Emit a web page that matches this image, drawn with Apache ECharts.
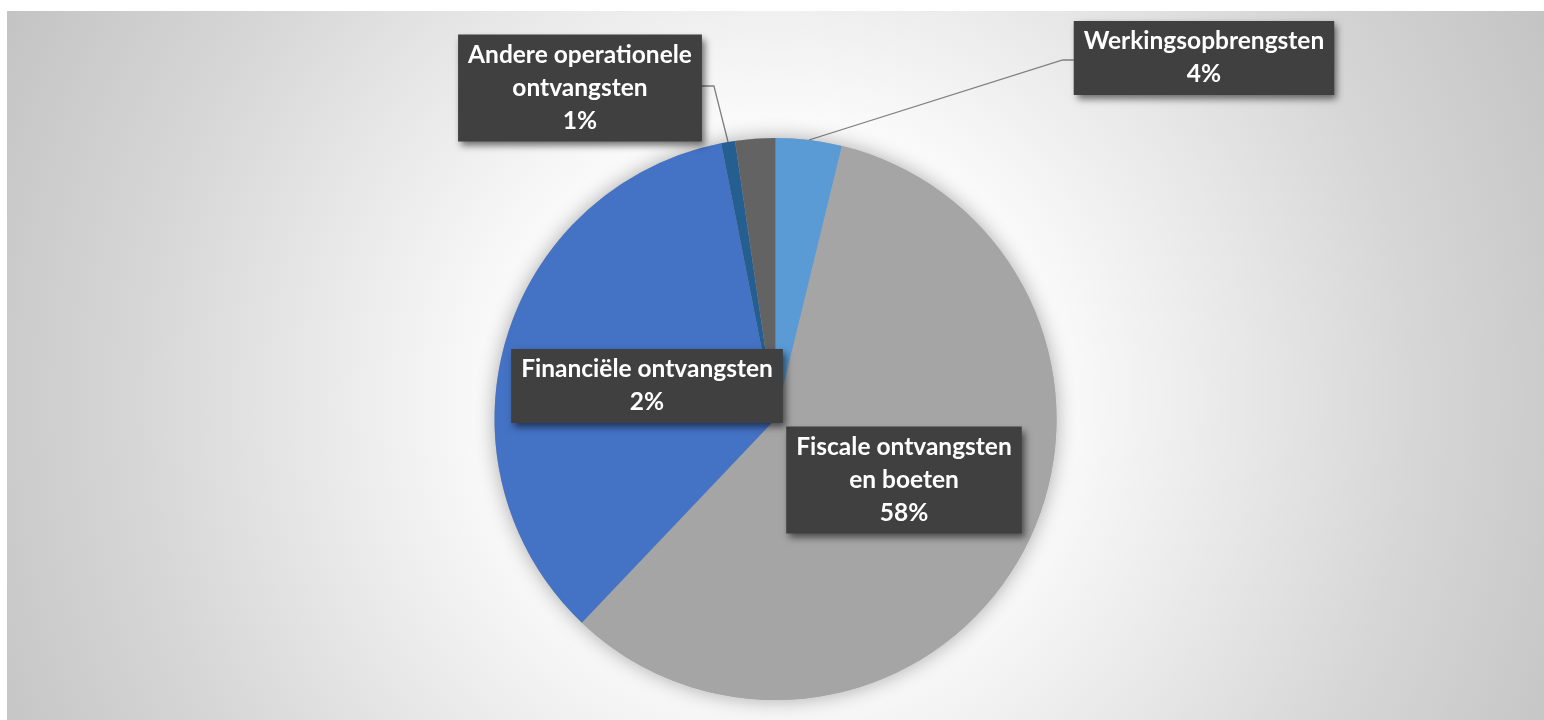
<!DOCTYPE html>
<html>
<head>
<meta charset="utf-8">
<script src="https://cdn.jsdelivr.net/npm/echarts@6/dist/echarts.min.js"></script>
<style>
  html, body { margin: 0; padding: 0; background: #fff; }
  #chart { position: absolute; left: 7px; top: 11px; width: 1537px; height: 709px; }
</style>
</head>
<body>
<div id="chart"></div>
<script>
// ── data (share of total in %) ──
const categories = [
  "Werkingsopbrengsten",
  "Fiscale ontvangsten en boeten",
  "Overdrachten",
  "Andere operationele ontvangsten",
  "Financiële ontvangsten",
];
const shares = [3.8, 58.3, 34.8, 0.8, 2.3];
const colors = ["#5B9BD5", "#A5A5A5", "#4472C4", "#255E91", "#636363"];

// which slices carry a label box, and how their text wraps
const labelText = {
  0: ["Werkingsopbrengsten"],
  1: ["Fiscale ontvangsten", "en boeten"],
  3: ["Andere operationele", "ontvangsten"],
  4: ["Financiële ontvangsten"],
};
// label box centres (chart px) + which side the leader enters from
const labelAt = {
  0: { x: 1197, y: 47, side: "left" },
  1: { x: 897, y: 469 },
  3: { x: 573, y: 77, side: "right" },
  4: { x: 640, y: 375 },
};

const total = shares.reduce((a, b) => a + b, 0);
const CENTER = ["50%", 408];
const RADIUS = 281;

const chart = echarts.init(document.getElementById("chart"), null, { renderer: "canvas" });

chart.setOption({
  backgroundColor: {
    type: "radial", x: 769, y: 389, r: 880, global: true,
    colorStops: [
      { offset: 0, color: "#ffffff" },
      { offset: 0.32, color: "#fafafa" },
      { offset: 0.54, color: "#e7e7e7" },
      { offset: 0.73, color: "#d6d6d6" },
      { offset: 1, color: "#c2c2c2" },
    ],
  },
  animation: false,
  series: [
    // soft glow under the whole pie
    {
      type: "pie", silent: true, center: CENTER, radius: RADIUS,
      label: { show: false }, labelLine: { show: false },
      itemStyle: { color: "#a5a5a5", shadowBlur: 20, shadowColor: "rgba(0,0,0,0.32)" },
      data: [{ name: "", value: total }],
    },
    {
      type: "pie", center: CENTER, radius: RADIUS,
      startAngle: 90, clockwise: true,
      itemStyle: { borderWidth: 0 },
      label: {
        show: true,
        formatter: (p) => (labelText[p.dataIndex] || [p.name]).join("\n") + "\n" + Math.round(p.percent) + "%",
        fontFamily: "Lato", fontWeight: "bold", fontSize: 24.5, lineHeight: 33,
        color: "#fff", align: "center",
        backgroundColor: "#404040", padding: [6, 10, 2, 10],
        shadowColor: "rgba(0,0,0,0.55)", shadowBlur: 7, shadowOffsetX: 3, shadowOffsetY: 4,
      },
      labelLine: { show: true, smooth: false, lineStyle: { color: "#7f7f7f", width: 1.3 } },
      labelLayout: (p) => {
        const at = labelAt[p.dataIndex];
        if (!at) return {};
        const out = { x: at.x, y: at.y, align: "center", verticalAlign: "middle" };
        const start = p.labelLinePoints && p.labelLinePoints[0];
        if (at.side && start) {
          const half = p.labelRect.width / 2;
          const edge = at.side === "left" ? at.x - half : at.x + half;
          const elbow = at.side === "left" ? edge - 11 : edge + 12;
          const ly = at.side === "left" ? at.y + 2 : at.y - 2;
          out.labelLinePoints = [start, [elbow, ly], [edge, ly]];
        }
        return out;
      },
      data: categories.map((name, i) => ({
        name, value: shares[i],
        itemStyle: { color: colors[i] },
        label: { show: !!labelText[i] },
        labelLine: { show: !!(labelAt[i] && labelAt[i].side) },
      })),
    },
  ],
});
</script>
</body>
</html>
